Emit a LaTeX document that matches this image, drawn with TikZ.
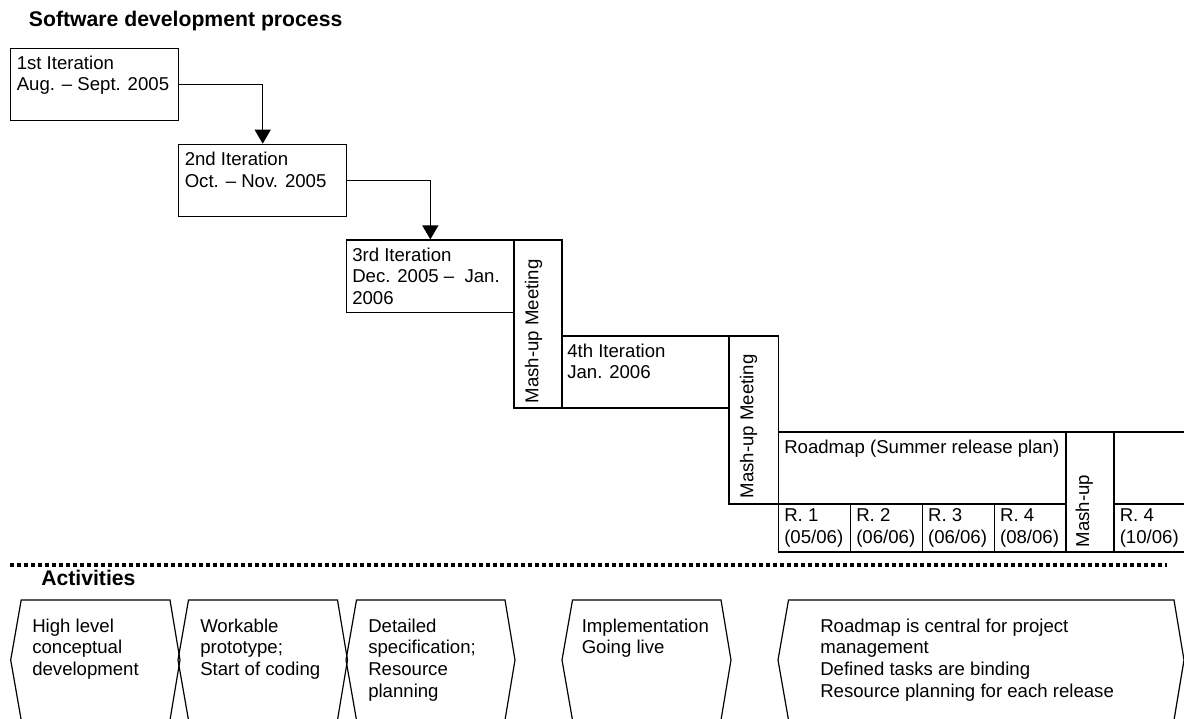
\documentclass[tikz,border=0pt]{standalone}
\usepackage{fontspec}
\setmainfont{Liberation Sans}
\usetikzlibrary{arrows.meta}
\newcommand{\bodyfont}{\fontsize{13.95pt}{16.3pt}\selectfont}
\newcommand{\headfont}{\fontsize{15.9pt}{19pt}\selectfont\bfseries}
% lines of a text block, baseline on the first line
\newcommand{\lines}[1]{\begin{tabular}[t]{@{}l@{}}#1\end{tabular}}

\begin{document}
\begin{tikzpicture}[x=0.75pt,y=-0.75pt]

		\tikzset{line/.style={draw,line width=0.9pt}}
		\tikzset{arrow/.style={line,-{Triangle[length=10.5pt,width=12pt]}}}
		\tikzset{dots/.style={line width=3pt,dash pattern=on 3pt off 2.25pt}}
		\tikzset{box/.style 2 args={line,shape=rectangle,inner sep=0pt,minimum width=#1*0.75pt,minimum height=#2*0.75pt}}
		\tikzset{txt/.style={inner sep=0pt,anchor=base west,font=\bodyfont}}
		\tikzset{vtxt/.style={txt,rotate=90}}
		\tikzset{head/.style={inner sep=0pt,anchor=base west,font=\headfont}}

		% Activity: width
		\tikzset{pics/act/.style={code={%
							\draw[line] (10.5,0) -- (#1-10,0) -- (#1,60) -- (#1-10,120) -- (10.5,120) -- (0,60) -- cycle;
						}}}

		\useasboundingbox (0,0) rectangle (1184,718);

		\node[head] (title) at (28.7,26.7) {Software development process};

		\node[box={168.4}{71.6}] (it1) at (94.5,84.5) {};
		\node[box={168}{72.4}] (it2) at (262.7,180.5) {};
		\node[box={167.3}{72.3}] (it3) at (430.35,276.15) {};
		\node[box={48}{168}] (m1) at (538,324) {};
		\node[box={167}{72}] (it4) at (645.5,372) {};
		\node[box={49.5}{168}] (m2) at (753.75,420) {};
		\node[box={287.5}{72}] (road) at (922.25,468) {};
		\node[box={48}{120}] (m3) at (1090,492) {};
		\node[box={76}{72}] (rb) at (1152,468) {};

		\node[box={72}{48}] (r1) at (814.5,528) {};
		\node[box={71.8}{48}] (r2) at (886.4,528) {};
		\node[box={72}{48}] (r3) at (958.3,528) {};
		\node[box={71.7}{48}] (r4) at (1030.15,528) {};
		\node[box={76}{48}] (r5) at (1152,528) {};

		\node[txt] (it1-t) at (16.5,69) {\lines{1st Iteration\\Aug. \textendash{} Sept. 2005}};
		\node[txt] (it2-t) at (184.5,165.5) {\lines{2nd Iteration\\Oct. \textendash{} Nov. 2005}};
		\node[txt] (it3-t) at (352,261) {\lines{3rd Iteration\\Dec. 2005 \textendash\ \ Jan.\\2006}};
		\node[txt] (it4-t) at (567,357) {\lines{4th Iteration\\Jan. 2006}};
		\node[txt] (road-t) at (784,453) {Roadmap (Summer release plan)};

		\node[txt] (r1-t) at (784,521.7) {\lines{R. 1\\(05/06)}};
		\node[txt] (r2-t) at (856,521.7) {\lines{R. 2\\(06/06)}};
		\node[txt] (r3-t) at (927.8,521.7) {\lines{R. 3\\(06/06)}};
		\node[txt] (r4-t) at (999.8,521.7) {\lines{R. 4\\(08/06)}};
		\node[txt] (r5-t) at (1119.5,521.7) {\lines{R. 4\\(10/06)}};

		\node[vtxt] (m1-t) at (538.3,403.5) {Mash-up Meeting};
		\node[vtxt] (m2-t) at (753.3,498.5) {Mash-up Meeting};
		\node[vtxt] (m3-t) at (1089,547.5) {Mash-up};

		\path[arrow] (it1.east) -| (it2.north);
		\path[arrow] (it2.east) -| (it3.north);

		\coordinate (sep-l) at (10,565);
		\coordinate (sep-r) at (1167,565);
		\path[draw,dots] (sep-l) -- (sep-r);

		\node[head] (act) at (41,585) {Activities};

		\pic (s1) at (10.7,600) {act=169.3};
		\pic (s2) at (178,600) {act=169.5};
		\pic (s3) at (346,600) {act=169};
		\pic (s4) at (562,600) {act=169};
		\pic (s5) at (778,600) {act=406};

		\node[txt] (s1-t) at (32,632) {\lines{High level\\conceptual\\development}};
		\node[txt] (s2-t) at (200,632) {\lines{Workable\\prototype;\\Start of coding}};
		\node[txt] (s3-t) at (368,632) {\lines{Detailed\\specification;\\Resource\\planning}};
		\node[txt] (s4-t) at (581.5,632) {\lines{Implementation\\Going live}};
		\node[txt] (s5-t) at (820,632) {\lines{Roadmap is central for project\\management\\Defined tasks are binding\\Resource planning for each release}};

	\end{tikzpicture}
\end{document}
